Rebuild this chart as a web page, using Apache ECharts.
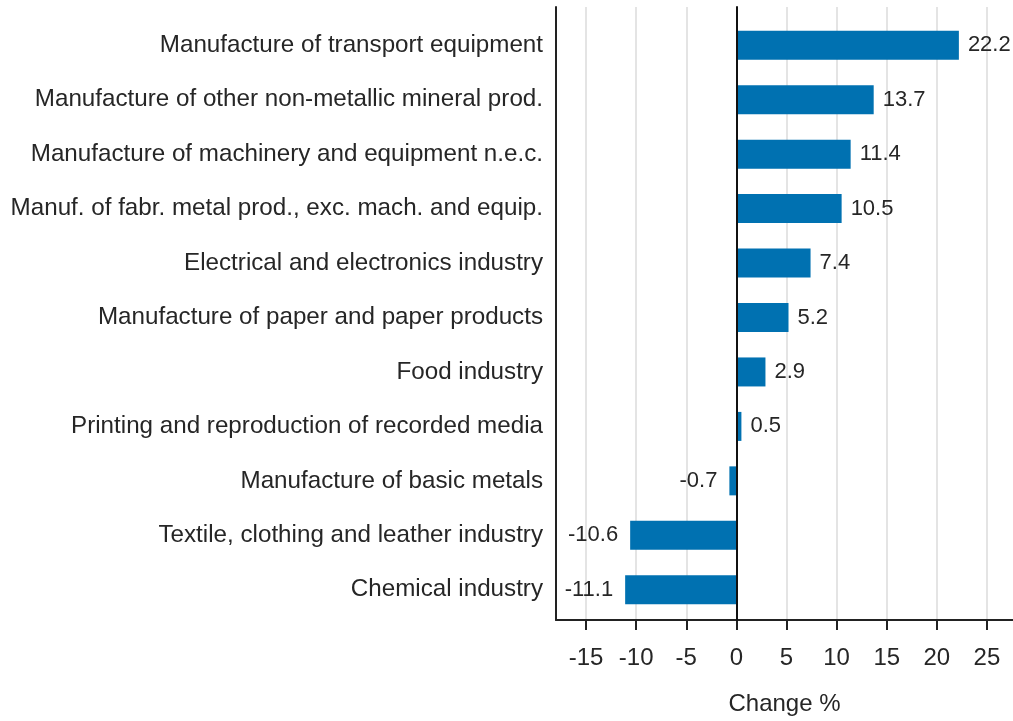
<!DOCTYPE html>
<html>
<head>
<meta charset="utf-8">
<script src="https://cdn.jsdelivr.net/npm/echarts@6/dist/echarts.min.js"></script>
<style>html,body{margin:0;padding:0;background:#fff;}#c{width:1013px;height:721px;}</style>
</head>
<body>
<div id="c"></div>
<script>
const categories = [
  "Manufacture of transport equipment",
  "Manufacture of other non-metallic mineral prod.",
  "Manufacture of machinery and equipment n.e.c.",
  "Manuf. of fabr. metal prod., exc. mach. and equip.",
  "Electrical and electronics industry",
  "Manufacture of paper and paper products",
  "Food industry",
  "Printing and reproduction of recorded media",
  "Manufacture of basic metals",
  "Textile, clothing and leather industry",
  "Chemical industry"
];
const changeValues = [22.2, 13.7, 11.4, 10.5, 7.4, 5.2, 2.9, 0.5, -0.7, -10.6, -11.1];
const xTicks = [-15, -10, -5, 0, 5, 10, 15, 20, 25];
const xMin = -18, xMax = 27.6;

const FONT = "'Liberation Sans', Arial, sans-serif";
const TXT = '#262626';
const chart = echarts.init(document.getElementById('c'), null, {renderer: 'canvas'});

const barData = changeValues.map(v => ({
  value: v,
  label: {position: v < 0 ? 'left' : 'right', distance: v < 0 ? 12 : 9}
}));

chart.setOption({
  animation: false,
  backgroundColor: '#fff',
  grid: [
    {left: 556, right: 0, top: 7, bottom: 94, containLabel: false},
    {left: 556, right: 0, top: 18, bottom: 104, containLabel: false}
  ],
  xAxis: [
    {
      gridIndex: 0, type: 'value', min: xMin, max: xMax,
      name: 'Change %', nameLocation: 'middle', nameGap: 72,
      nameTextStyle: {fontFamily: FONT, fontSize: 24, color: TXT},
      axisLine: {show: true, onZero: false, lineStyle: {color: '#222', width: 2}},
      axisTick: {show: true, length: 10, customValues: xTicks, lineStyle: {color: '#222', width: 2}},
      axisLabel: {show: true, customValues: xTicks, margin: 26, fontFamily: FONT, fontSize: 24, color: TXT},
      splitLine: {show: true, lineStyle: {color: '#e4e4e4', width: 2}}
    },
    {
      gridIndex: 1, type: 'value', min: xMin, max: xMax, show: false,
      splitLine: {show: false}
    }
  ],
  yAxis: [
    {
      gridIndex: 0, type: 'value', min: 0, max: 1, position: 'left',
      axisLine: {show: true, onZero: false, lineStyle: {color: '#222', width: 2}},
      axisTick: {show: false}, axisLabel: {show: false}, splitLine: {show: false}
    },
    {
      gridIndex: 0, type: 'value', min: 0, max: 1, position: 'right', z: 10,
      axisLine: {show: true, onZero: true, lineStyle: {color: '#111', width: 2}},
      axisTick: {show: false}, axisLabel: {show: false}, splitLine: {show: false}
    },
    {
      gridIndex: 1, type: 'category', inverse: true, data: categories,
      axisLine: {show: false}, axisTick: {show: false},
      axisLabel: {margin: 13, fontFamily: FONT, fontSize: 24.2, color: TXT},
      splitLine: {show: false}
    }
  ],
  series: [
    {
      type: 'bar', xAxisIndex: 1, yAxisIndex: 2,
      data: barData, barWidth: 29,
      itemStyle: {color: '#0071b1'},
      label: {show: true, fontFamily: FONT, fontSize: 22, color: TXT,
        formatter: p => p.value.toFixed(1)}
    }
  ]
});
</script>
</body>
</html>
